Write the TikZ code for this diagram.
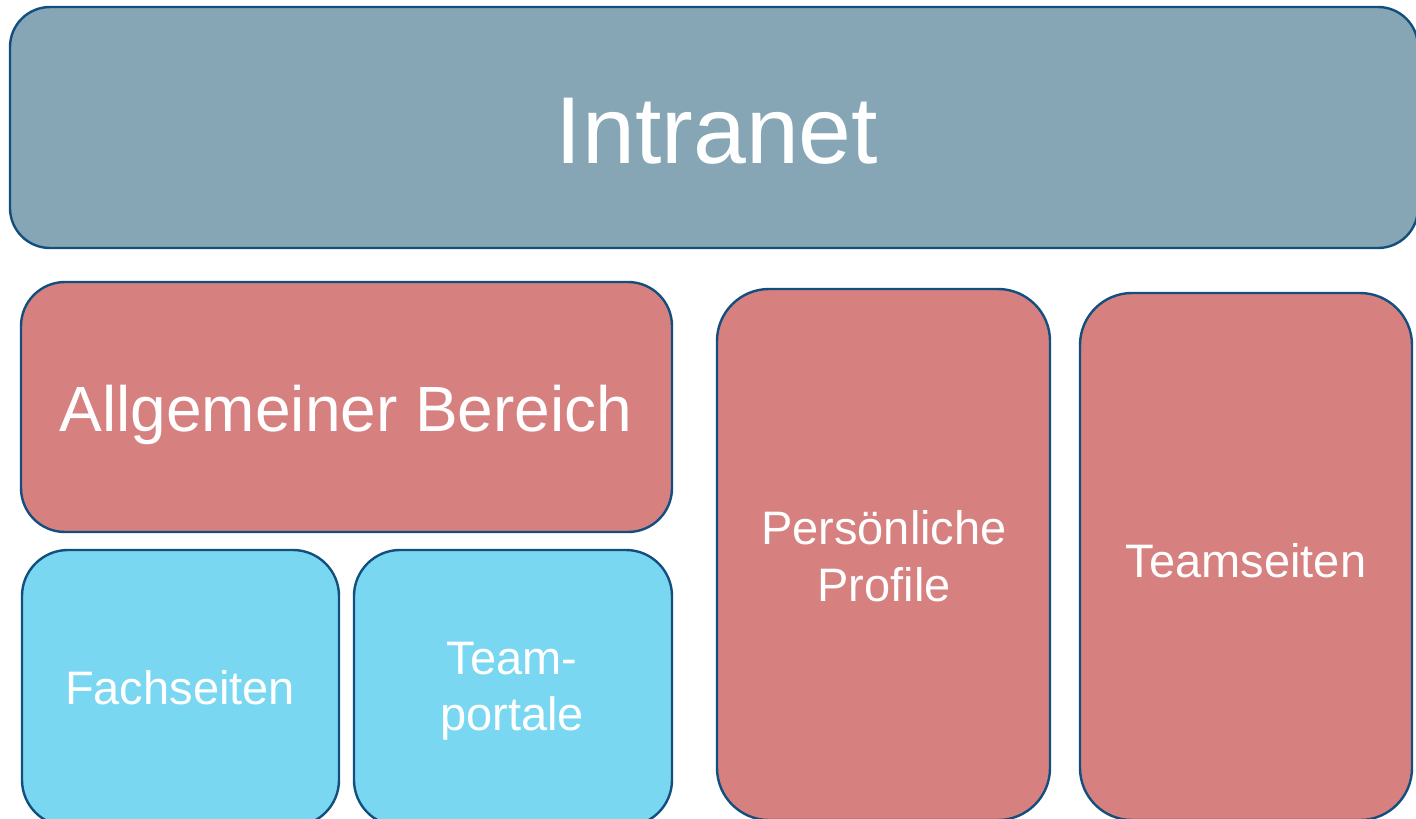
\documentclass[tikz,border=0pt]{standalone}
\usepackage{fontspec}
\setmainfont{Liberation Sans}
\definecolor{edgeblue}{HTML}{124E7E}
\definecolor{intrafill}{HTML}{86A6B6}
\definecolor{redfill}{HTML}{D6807F}
\definecolor{cyanfill}{HTML}{7AD7F2}
\begin{document}
\begin{tikzpicture}[x=1pt,y=-1pt,
  box/.style={draw=edgeblue, line width=2.4pt, anchor=north west, inner sep=0pt, outer sep=0pt},
  lbl/.style={text=white, inner sep=0pt, align=center},
  big/.style={font=\fontsize{95}{114}\selectfont},
  mid/.style={font=\fontsize{64}{77}\selectfont},
  small/.style={font=\fontsize{47}{56.5}\selectfont}]
\useasboundingbox (0,0) rectangle (1416,819);
\clip (0,0) rectangle (1416,819);
\node[box, fill=intrafill, rounded corners=40pt, minimum width=1408pt, minimum height=241pt] (intranet) at (10,7) {};
\node[box, fill=redfill, rounded corners=44pt, minimum width=651pt, minimum height=250pt] (allg) at (21,282) {};
\node[box, fill=cyanfill, rounded corners=46pt, minimum width=317pt, minimum height=276pt] (fach) at (22,550) {};
\node[box, fill=cyanfill, rounded corners=46pt, minimum width=318pt, minimum height=276pt] (portal) at (354,550) {};
\node[box, fill=redfill, rounded corners=52pt, minimum width=333pt, minimum height=531pt] (profile) at (717,289) {};
\node[box, fill=redfill, rounded corners=52pt, minimum width=332pt, minimum height=527pt] (teams) at (1080,293) {};
\node[lbl, big, anchor=base] (tintranet) at (717,163) {Intranet};
\node[lbl, mid, anchor=base] (tallg) at (346,431) {Allgemeiner Bereich};
\node[lbl, small, anchor=base] (tfach) at (180,704) {Fachseiten};
\node[lbl, small] (tportal) at (512,691) {Team-\\portale};
\node[lbl, small] (tprofile) at (884,556) {Persönliche\\Profile};
\node[lbl, small, anchor=base] (tteams) at (1246,577) {Teamseiten};
\end{tikzpicture}
\end{document}
